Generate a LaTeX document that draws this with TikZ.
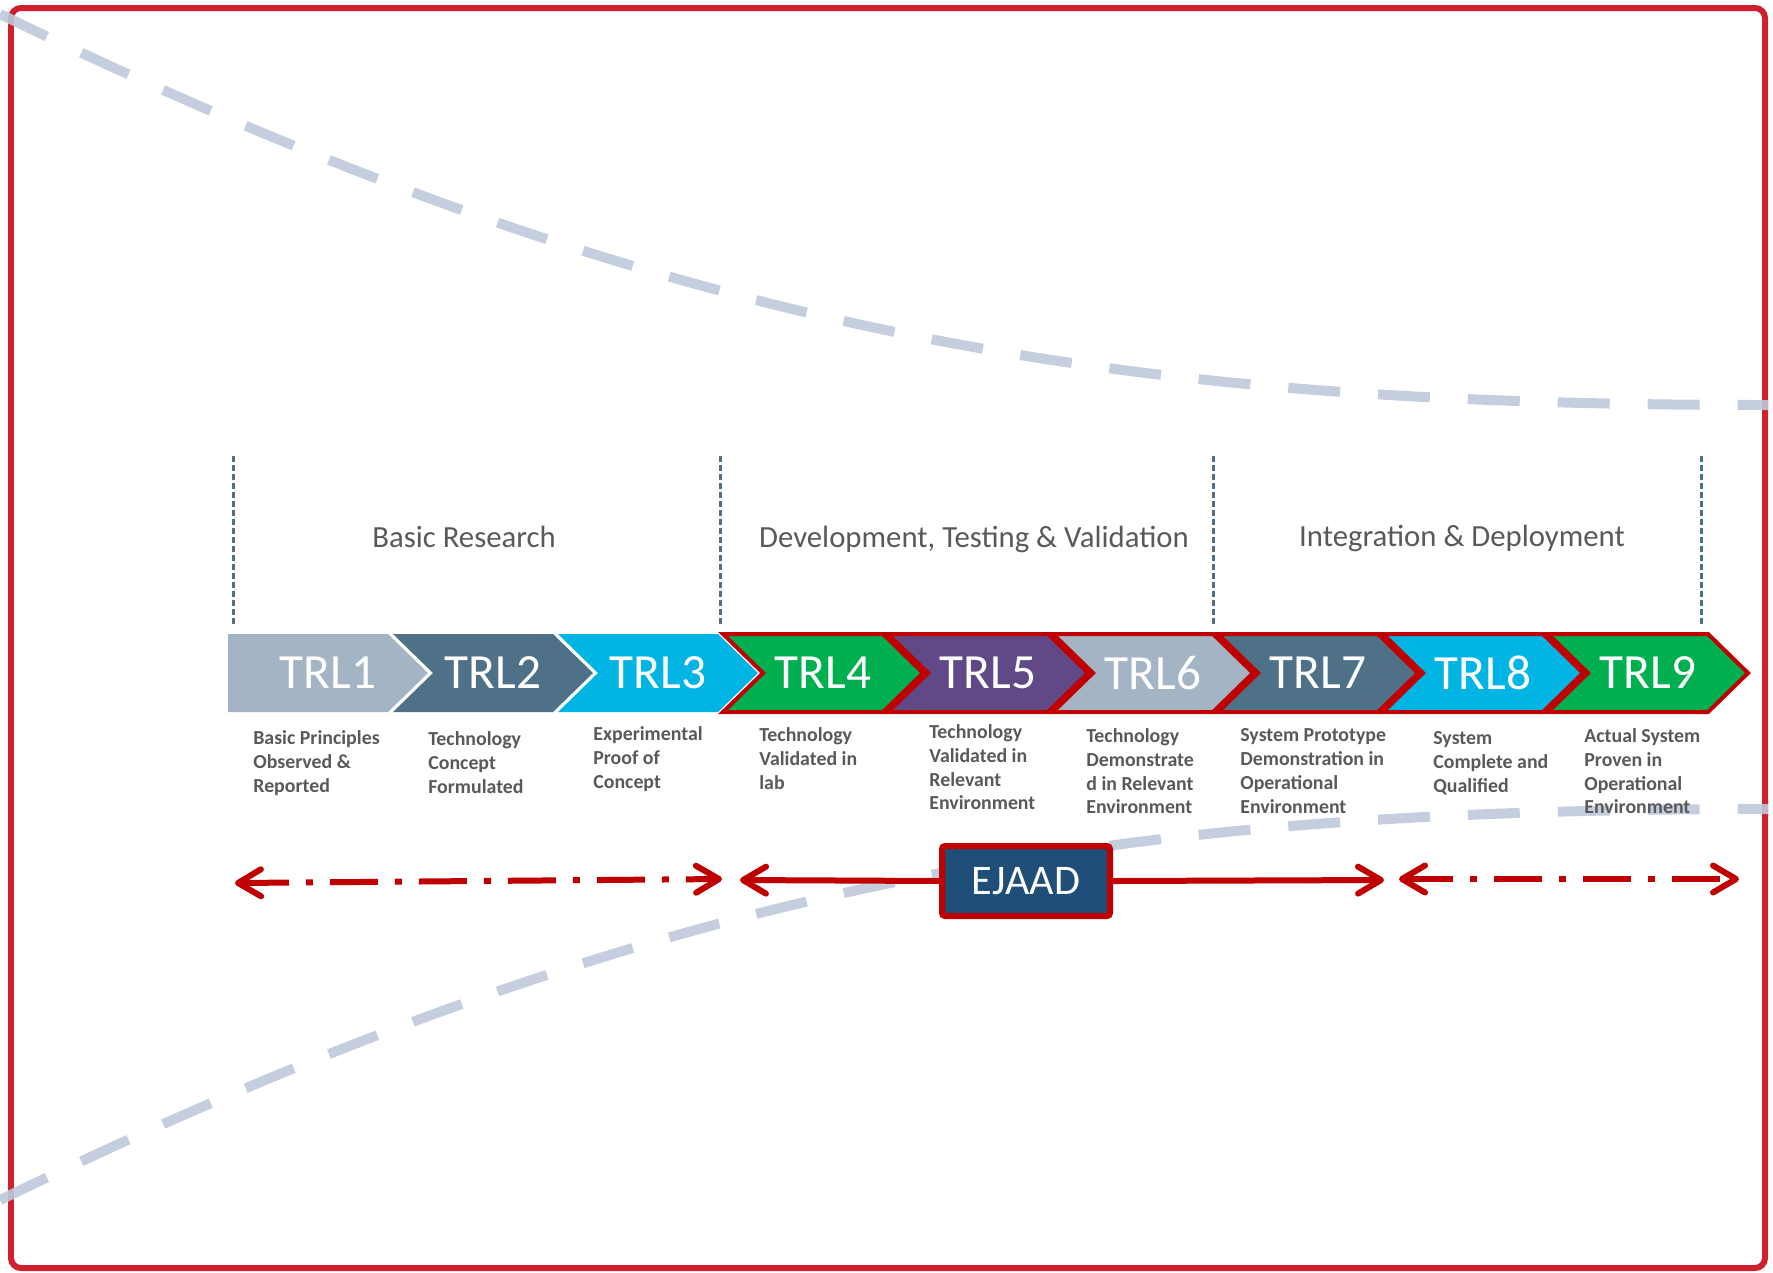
\documentclass[tikz,border=0pt]{standalone}
\usepackage{fontspec}
\setmainfont{Carlito}
\usetikzlibrary{arrows.meta}

\definecolor{trlgray}{RGB}{163,181,196}
\definecolor{trlslate}{RGB}{79,113,135}
\definecolor{trlcyan}{RGB}{0,180,228}
\definecolor{trlgreen}{RGB}{0,176,80}
\definecolor{trlpurple}{RGB}{97,73,135}
\definecolor{ejaadblue}{RGB}{31,78,121}
\definecolor{darkred}{RGB}{192,0,0}
\definecolor{framered}{RGB}{208,32,44}
\definecolor{fadeblue}{RGB}{191,201,220}
\definecolor{labelgray}{RGB}{89,89,89}

\begin{document}
\begin{tikzpicture}[
x=0.02cm,y=-0.02cm,
outerframe/.style={draw=framered,line width=0.12cm,rounded corners=0.2cm},
funnel/.style={draw=fadeblue,line width=0.2cm,dash pattern=on 1.04cm off 0.76cm,opacity=0.9},
divider/.style={draw=trlslate,line width=0.06cm,dash pattern=on 0.12cm off 0.06cm},
trltext/.style={text=white,inner sep=0pt,font=\fontsize{28}{34}\selectfont},
desc/.style={anchor=north west,align=left,inner sep=0pt,text=labelgray,font=\bfseries\fontsize{11.3}{13.6}\selectfont},
phase/.style={anchor=base,inner sep=0pt,text=labelgray,font=\fontsize{17.5}{21}\selectfont},
ejaadbox/.style={rectangle,draw=darkred,fill=ejaadblue,line width=0.12cm,rounded corners=0.06cm,minimum width=3.36cm,minimum height=1.4cm,text=white,font=\fontsize{24}{28}\selectfont},
barb/.tip={Straight Barb[length=0.46cm,width=0.54cm,round]},
spanarrow/.style={draw=darkred,line width=0.12cm,barb-barb},
ejaadarrow/.style={draw=darkred,line width=0.12cm,-barb},
dashdotline/.style={dash pattern=on 0.96cm off 0.34cm on 0.14cm off 0.34cm}
]
\useasboundingbox (0,0) rectangle (1773,1272);

% Frame and funnel lines
\draw[outerframe] (11,8) rectangle (1765,1268);
\draw[funnel] (0,14) .. controls (678,343) and (1131,405) .. (1768,405);
\draw[funnel] (0,1200) .. controls (678,871) and (1131,809) .. (1768,809);

% Phase dividers and labels
\foreach \x in {233,720,1213,1701}
  \draw[divider] (\x,456) -- (\x,624);
\node[phase] (basic) at (464,547) {Basic Research};
\node[phase] (devel) at (974,547) {Development, Testing \& Validation};
\node[phase] (integ) at (1462,546) {Integration \& Deployment};

% Set chevron pitch
\def\pitch{165}

\foreach \i/\col/\edge in {1/trlgray/none,2/trlslate/none,3/trlcyan/none,4/trlgreen/darkred,5/trlpurple/darkred,6/trlgray/darkred,7/trlslate/darkred,8/trlcyan/darkred,9/trlgreen/darkred}{
  \pgfmathtruncatemacro\a{228+(\i-1)*\pitch}
  \pgfmathtruncatemacro\n{\i>1 ? 40 : 0}
  \draw[fill=\col,draw=\edge,line width=0.08cm,line join=miter] (\a,634) -- ++(160,0) -- ++(40,39) -- ++(-40,39) -- ++(-160,0) -- ++(\n,-39) -- cycle;
  \node[trltext] (trl\i) at (\a+100,673) {TRL\i};
}

% Descriptions under the chevrons
\foreach \i/\x/\y/\txt in {
  1/253/730/{Basic Principles\\Observed \&\\Reported},
  2/428/731/{Technology\\Concept\\Formulated},
  3/593/726/{Experimental\\Proof of\\Concept},
  4/759/727/{Technology\\Validated in\\lab},
  5/929/724/{Technology\\Validated in\\Relevant\\Environment},
  6/1086/728/{Technology\\Demonstrate\\d in Relevant\\Environment},
  7/1240/728/{System Prototype\\Demonstration in\\Operational\\Environment},
  8/1433/731/{System\\Complete and\\Qualified},
  9/1584/728/{Actual System\\Proven in\\Operational\\Environment}}
  \node[desc] (d\i) at (\x,\y) {\txt};

% EJAAD span
\node[ejaadbox] (ejaad) at (1026,881) {EJAAD};
\coordinate (la) at (235,883);
\coordinate (lb) at (722,879);
\coordinate (mb) at (740,880);
\coordinate (mc) at (1384,880);
\coordinate (ra) at (1399,879);
\coordinate (rb) at (1739,879);
\draw[spanarrow,dashdotline] (la) -- (lb);
\draw[ejaadarrow] (ejaad.west) -- (mb);
\draw[ejaadarrow] (ejaad.east) -- (mc);
\draw[spanarrow,dashdotline] (ra) -- (rb);
\end{tikzpicture}
\end{document}
